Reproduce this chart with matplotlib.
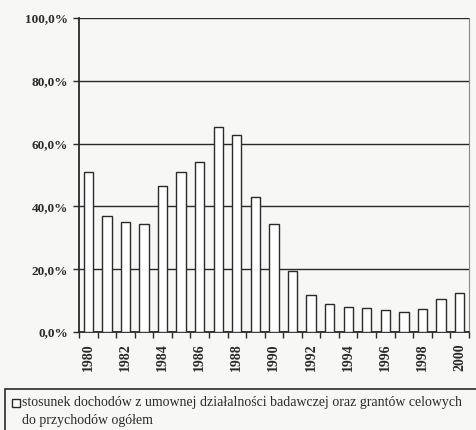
import matplotlib.pyplot as plt
import numpy as np
from matplotlib.patches import Rectangle

years = list(range(1980, 2001))
values = [51.0, 37.0, 35.0, 34.3, 46.6, 51.0, 54.0, 65.3, 62.7, 43.0, 34.4,
          19.4, 11.8, 8.9, 8.1, 7.5, 7.0, 6.2, 7.2, 10.5, 12.4]
yticks = [0, 20, 40, 60, 80, 100]
ytick_labels = ['0,0%', '20,0%', '40,0%', '60,0%', '80,0%', '100,0%']
legend_text = ('stosunek dochodów z umownej działalności badawczej oraz grantów celowych\n'
               'do przychodów ogółem')

plt.rcParams['font.family'] = ['Liberation Serif', 'DejaVu Serif']
bg = '#f7f7f5'
ink = '#2a2a2a'

fig = plt.figure(figsize=(4.76, 4.30), dpi=100, facecolor=bg)
ax = fig.add_axes([0.166, 0.228, 0.819, 0.730], facecolor=bg)

x = np.arange(len(years))
ax.set_axisbelow(True)
ax.yaxis.grid(True, color=ink, linewidth=1.0)
ax.bar(x, values, width=0.5, color='white', edgecolor=ink, linewidth=1.0, zorder=3)

ax.set_xlim(-0.5, len(years) - 0.5)
ax.set_ylim(0, 100)
ax.set_yticks(yticks)
ax.set_yticklabels(ytick_labels, fontsize=9.5, fontweight='bold', color=ink)

# ticks between categories, labels every other year
ax.set_xticks(np.arange(len(years) + 1) - 0.5)
ax.set_xticklabels([])
ax.set_xticks(x[::2], minor=True)
ax.set_xticklabels([str(y) for y in years[::2]], minor=True, rotation=90,
                   fontsize=10, fontweight='bold', color=ink)
ax.tick_params(axis='x', which='minor', length=0, pad=8)
ax.tick_params(axis='x', which='major', length=4, width=1, color=ink, direction='out')
ax.tick_params(axis='y', length=4, width=1, color=ink, direction='out', pad=4)

for side in ['left', 'bottom']:
    ax.spines[side].set_linewidth(1.3)
    ax.spines[side].set_color(ink)
ax.spines['top'].set_visible(False)
ax.spines['right'].set_linewidth(0.8)
ax.spines['right'].set_color('#888888')

# legend box at the bottom
fig.patches.append(Rectangle((0.011, -0.02), 1.0, 0.115, transform=fig.transFigure,
                             facecolor=bg, edgecolor=ink, linewidth=1.2))
fig.patches.append(Rectangle((0.026, 0.054), 0.017, 0.019, transform=fig.transFigure,
                             facecolor='white', edgecolor=ink, linewidth=1.0))
fig.text(0.047, 0.0635, legend_text.split('\n')[0], fontsize=10, color=ink, va='center')
fig.text(0.047, 0.021, legend_text.split('\n')[1], fontsize=10, color=ink, va='center')

fig.savefig('out.png', dpi=100, facecolor=bg)
